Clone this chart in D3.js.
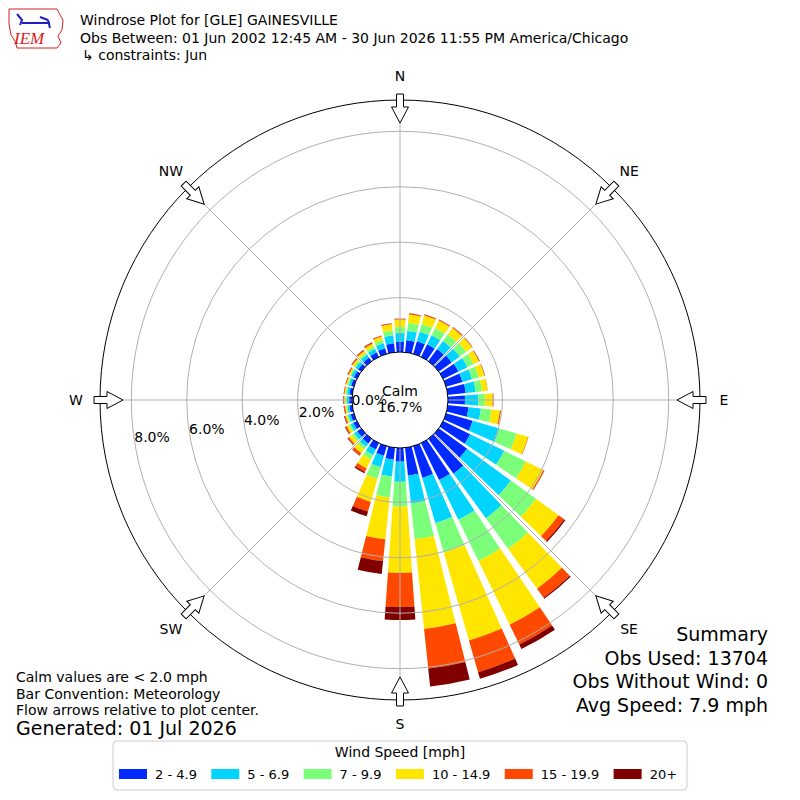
<!DOCTYPE html>
<html lang="en">
<head>
<meta charset="utf-8">
<title>Windrose Plot for [GLE] GAINESVILLE</title>
<script src="https://cdn.jsdelivr.net/npm/d3@7"></script>
<style>
  body { margin: 0; background: #fff; }
  svg { display: block; font-family: "DejaVu Sans", sans-serif; }
</style>
</head>
<body>
<svg id="chart" width="800" height="800"></svg>
<script>

// direction bins, degrees from north (meteorological)
var directions = [0, 10, 20, 30, 40, 50, 60, 70, 80, 90, 100, 110, 120, 130, 140, 150, 160, 170,
                  180, 190, 200, 210, 220, 230, 240, 250, 260, 270, 280, 290, 300, 310, 320, 330, 340, 350];

var speedBins = ["2 - 4.9", "5 - 6.9", "7 - 9.9", "10 - 14.9", "15 - 19.9", "20+"];
var binColors = ["#002aff", "#00d4ff", "#7bff7b", "#ffe600", "#ff4800", "#800000"];

// percent of all obs, one value per direction
var pct2to5   = [0.40,0.47,0.51,0.54,0.58,0.61,0.65,0.65,0.69,0.65,0.79,1.03,1.12,1.30,1.59,1.52,1.23,1.05,
                 0.53,0.47,0.40,0.29,0.25,0.22,0.18,0.16,0.14,0.14,0.14,0.14,0.16,0.18,0.20,0.22,0.25,0.36];
var pct5to7   = [0.32,0.34,0.36,0.36,0.36,0.36,0.36,0.36,0.36,0.48,0.45,1.01,1.37,1.95,1.99,1.59,1.70,1.01,
                 0.72,0.61,0.43,0.22,0.14,0.13,0.11,0.09,0.07,0.09,0.09,0.09,0.11,0.11,0.13,0.14,0.18,0.29];
var pct7to10  = [0.22,0.29,0.29,0.29,0.29,0.29,0.25,0.25,0.23,0.24,0.38,0.64,0.87,1.12,1.37,1.66,1.10,1.30,
                 0.90,0.76,0.43,0.18,0.11,0.09,0.07,0.05,0.05,0.05,0.05,0.05,0.05,0.07,0.07,0.09,0.13,0.18];
var pct10to15 = [0.27,0.31,0.32,0.31,0.29,0.26,0.22,0.22,0.20,0.28,0.31,0.43,0.70,1.01,1.77,2.56,3.30,3.25,
                 2.39,1.52,0.87,0.36,0.18,0.14,0.09,0.05,0.04,0.04,0.04,0.05,0.05,0.07,0.09,0.11,0.13,0.22];
var pct15to20 = [0.02,0.03,0.03,0.03,0.03,0.02,0.02,0.01,0.01,0.02,0.04,0.02,0.04,0.25,0.40,0.79,1.19,1.44,
                 1.23,0.79,0.36,0.14,0.09,0.05,0.05,0.04,0.04,0.03,0.02,0.02,0.04,0.04,0.04,0.04,0.03,0.03];
var pct20up   = [0.01,0.01,0.01,0.01,0.01,0.01,0.01,0.01,0.00,0.01,0.00,0.00,0.01,0.05,0.05,0.18,0.25,0.65,
                 0.47,0.47,0.18,0.05,0.02,0.02,0.02,0.02,0.01,0.01,0.01,0.01,0.01,0.01,0.02,0.02,0.01,0.01];

var ringTicks = [0, 2, 4, 6, 8];
var compassAngles = [0, 45, 90, 135, 180, 225, 270, 315];
var compassNames = ["N", "NE", "E", "SE", "S", "SW", "W", "NW"];

var calmPct = "16.7%";
var titleLines = ["Windrose Plot for [GLE] GAINESVILLE",
                  "Obs Between: 01 Jun 2002 12:45 AM - 30 Jun 2026 11:55 PM America/Chicago",
                  "\u21b3 constraints: Jun"];
var footLines = ["Calm values are < 2.0 mph", "Bar Convention: Meteorology", "Flow arrows relative to plot center."];
var generated = "Generated: 01 Jul 2026";
var summaryLines = ["Summary", "Obs Used: 13704", "Obs Without Wind: 0", "Avg Speed: 7.9 mph"];

var seriesList = [pct2to5, pct5to7, pct7to10, pct10to15, pct15to20, pct20up];

// ---- layout
var cx = 400, cy = 400;
var rMaxPct = 9.13;
var r = d3.scaleLinear().domain([0, rMaxPct]).range([47, 300]);
var ang = d3.scaleLinear().domain([0, 360]).range([0, 2 * Math.PI]);
var barHalf = 4; // degrees each side of bin center

var svg = d3.select("#chart");

// ---- header / logo
var logo = svg.append("g");
logo.append("path")
    .attr("d", "M9,9 L57,9 L59,13 L63,20 L62,30 L58,36 L61,43 L57,48 L17,48 L15,41 L11,35 L9,24 Z")
    .attr("fill", "none").attr("stroke", "#d62020").attr("stroke-width", 1);
logo.append("line").attr("x1", 22).attr("y1", 23).attr("x2", 50).attr("y2", 23)
    .attr("stroke", "#2020c0").attr("stroke-width", 2);
logo.append("path").attr("d", "M17,14 L22,20 L20,25 M40,17 L48,20 M48,20 L50,28")
    .attr("fill", "none").attr("stroke", "#2020c0").attr("stroke-width", 2);
logo.append("text").attr("x", 14).attr("y", 44)
    .attr("font-family", "Liberation Serif, serif").attr("font-style", "italic")
    .attr("font-size", 17).attr("fill", "#d62020").text("IEM");

svg.append("g").selectAll("text").data(titleLines).enter().append("text")
    .attr("x", function(d, i) { return i == 2 ? 82 : 80; })
    .attr("y", function(d, i) { return 25 + i * 17.5; })
    .attr("font-size", 14).text(function(d) { return d; });

// ---- bars
var rows = directions.map(function(d, j) {
    var o = { dir: d };
    seriesList.forEach(function(s, k) { o["b" + k] = s[j]; });
    return o;
});
var stacked = d3.stack().keys(speedBins.map(function(d, k) { return "b" + k; }))(rows);

var arc = d3.arc()
    .innerRadius(function(d) { return r(d[0]); })
    .outerRadius(function(d) { return r(d[1]); })
    .startAngle(function(d) { return ang(d.data.dir - barHalf); })
    .endAngle(function(d) { return ang(d.data.dir + barHalf); });

var plot = svg.append("g").attr("transform", "translate(" + cx + "," + cy + ")");

plot.selectAll("g.series").data(stacked).enter().append("g")
    .attr("class", "series")
    .attr("fill", function(d, k) { return binColors[k]; })
  .selectAll("path").data(function(d) { return d; }).enter().append("path")
    .attr("d", arc);

// ---- grid (drawn over bars)
plot.selectAll("circle.ring").data(ringTicks.slice(1)).enter().append("circle")
    .attr("class", "ring").attr("r", function(d) { return r(d); })
    .attr("fill", "none").attr("stroke", "#b0b0b0").attr("stroke-width", 1);

plot.selectAll("line.spoke").data(compassAngles).enter().append("line")
    .attr("x1", function(d) { return Math.sin(ang(d)) * r(0); })
    .attr("y1", function(d) { return -Math.cos(ang(d)) * r(0); })
    .attr("x2", function(d) { return Math.sin(ang(d)) * r(rMaxPct); })
    .attr("y2", function(d) { return -Math.cos(ang(d)) * r(rMaxPct); })
    .attr("stroke", "#b0b0b0").attr("stroke-width", 1);

plot.append("circle").attr("r", r(rMaxPct))
    .attr("fill", "none").attr("stroke", "#000").attr("stroke-width", 1);

// calm circle
plot.append("circle").attr("r", r(0) + 1)
    .attr("fill", "#fff").attr("stroke", "#000").attr("stroke-width", 1);
plot.append("text").attr("x", 0).attr("y", -9).attr("text-anchor", "middle")
    .attr("dominant-baseline", "central").attr("font-size", 14).text("Calm");
plot.append("text").attr("x", 0).attr("y", 7).attr("text-anchor", "middle")
    .attr("dominant-baseline", "central").attr("font-size", 14).text(calmPct);

// ring labels
var labelAng = 261.5;
plot.selectAll("text.rlab").data(ringTicks).enter().append("text")
    .attr("class", "rlab")
    .attr("x", function(d) { return Math.sin(ang(labelAng)) * r(d) + (d == 0 ? -2 : 0); })
    .attr("y", function(d) { return -Math.cos(ang(labelAng)) * r(d) - (d == 0 ? 7 : 3); })
    .attr("dominant-baseline", "central").attr("font-size", 14)
    .text(function(d) { return d3.format(".1f")(d) + "%"; });

// compass labels
plot.selectAll("text.comp").data(compassAngles).enter().append("text")
    .attr("x", function(d) { return Math.sin(ang(d)) * (r(rMaxPct) + 24); })
    .attr("y", function(d) { return -Math.cos(ang(d)) * (r(rMaxPct) + 24); })
    .attr("text-anchor", "middle").attr("dominant-baseline", "central")
    .attr("font-size", 14).text(function(d, i) { return compassNames[i]; });

// flow arrows, pointing toward plot center
var R = r(rMaxPct);
var arrowPts = [[0, -(R - 23)], [8.5, -(R - 7)], [3.5, -(R - 7)], [3.5, -(R + 6)],
                [-3.5, -(R + 6)], [-3.5, -(R - 7)], [-8.5, -(R - 7)]];
plot.selectAll("path.arrow").data(compassAngles).enter().append("path")
    .attr("d", d3.line()(arrowPts) + "Z")
    .attr("transform", function(d) { return "rotate(" + d + ")"; })
    .attr("fill", "#fff").attr("stroke", "#000").attr("stroke-width", 1);

// ---- footer text
svg.append("g").selectAll("text").data(footLines).enter().append("text")
    .attr("x", 16).attr("y", function(d, i) { return 682 + i * 16.5; })
    .attr("font-size", 14).text(function(d) { return d; });
svg.append("text").attr("x", 16).attr("y", 735).attr("font-size", 19).text(generated);

svg.append("g").selectAll("text").data(summaryLines).enter().append("text")
    .attr("x", 768).attr("y", function(d, i) { return 641 + i * 23.5; })
    .attr("text-anchor", "end").attr("font-size", 19).text(function(d) { return d; });

// ---- legend
var leg = svg.append("g");
leg.append("rect").attr("x", 113).attr("y", 741).attr("width", 574).attr("height", 49)
    .attr("rx", 4).attr("fill", "#fff").attr("stroke", "#cccccc").attr("stroke-width", 1);
leg.append("text").attr("x", 400).attr("y", 757).attr("text-anchor", "middle")
    .attr("font-size", 14).text("Wind Speed [mph]");

var items = leg.append("g");
var xPos = 0, gap = 14.4;
speedBins.forEach(function(lbl, k) {
    var it = items.append("g").attr("transform", "translate(" + xPos + ",0)");
    it.append("rect").attr("x", 0).attr("y", 769).attr("width", 28).attr("height", 10)
        .attr("fill", binColors[k]);
    var t = it.append("text").attr("x", 36).attr("y", 779).attr("font-size", 13).text(lbl);
    xPos += 36 + t.node().getComputedTextLength() + gap;
});
items.attr("transform", "translate(119,0)");

</script>
</body>
</html>
